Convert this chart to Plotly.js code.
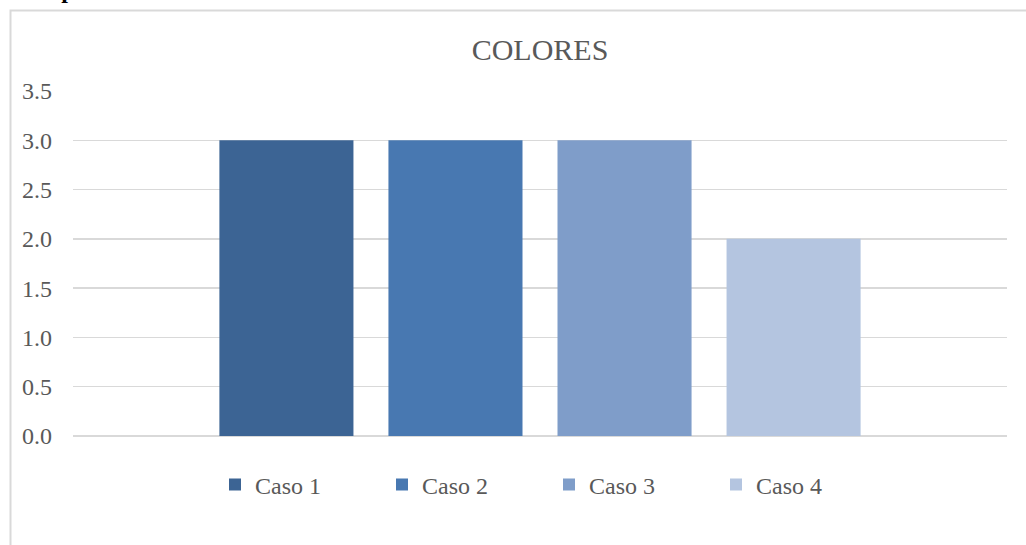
<!DOCTYPE html>
<html>
<head>
<meta charset="utf-8">
<script src="https://cdn.plot.ly/plotly-3.0.1.min.js"></script>
<style>html,body{margin:0;padding:0;background:#fff;}#chart{width:1026px;height:545px;}</style>
</head>
<body>
<div id="chart"></div>
<script>
const categories = ['COLORES'];
const seriesNames = ['Caso 1', 'Caso 2', 'Caso 3', 'Caso 4'];
const seriesValues = [[3], [3], [3], [2]];
const seriesColors = ['#3C6494', '#4878B1', '#7F9DC9', '#B4C5E0'];
const tickValues = [0, 0.5, 1, 1.5, 2, 2.5, 3, 3.5];
const tickLabels = ['0.0', '0.5', '1.0', '1.5', '2.0', '2.5', '3.0', '3.5'];
const chartTitle = 'COLORES';
const captionText = 'Comparación de Colores';

const FONT = 'Liberation Serif, Times New Roman, serif';
const W = 1026, H = 545;
const L = 73, R = 19, T = 91, B = 109;
const PW = W - L - R, PH = H - T - B;
const px = x => (x - L) / PW;
const py = y => (H - B - y) / PH;

const data = seriesNames.map((name, i) => ({
  type: 'bar',
  name: name,
  x: categories,
  y: seriesValues[i],
  marker: {color: seriesColors[i], line: {width: 0}},
  hoverinfo: 'name+y'
}));

const layout = {
  width: W, height: H,
  margin: {l: L, r: R, t: T, b: B, pad: 0},
  paper_bgcolor: '#ffffff',
  plot_bgcolor: '#ffffff',
  barmode: 'group',
  bargap: 0.276,
  bargroupgap: 0.207,
  font: {family: FONT, color: '#595959', size: 24},
  title: {
    text: chartTitle,
    font: {family: FONT, size: 30, color: '#595959'},
    x: 0.5, xanchor: 'center', xref: 'paper',
    y: 1 - 49 / H, yanchor: 'middle', yref: 'container'
  },
  xaxis: {
    showticklabels: false, ticks: '', showgrid: false, zeroline: false,
    showline: false, fixedrange: true
  },
  yaxis: {
    range: [0, 3.5],
    tickvals: tickValues,
    ticktext: tickLabels,
    ticks: '',
    ticklabelstandoff: 20,
    showgrid: true, gridcolor: '#d9d9d9', gridwidth: 1.5,
    zeroline: true, zerolinecolor: '#d9d9d9', zerolinewidth: 1.5,
    showline: false,
    tickfont: {family: FONT, size: 24, color: '#595959'},
    fixedrange: true
  },
  showlegend: true,
  legend: {
    orientation: 'h',
    x: px(215), xanchor: 'left',
    y: py(485), yanchor: 'middle',
    entrywidth: 122, entrywidthmode: 'pixels',
    itemwidth: 30,
    font: {family: FONT, size: 24, color: '#595959'},
    bgcolor: 'rgba(0,0,0,0)', borderwidth: 0,
    traceorder: 'normal'
  },
  shapes: [{
    type: 'rect', xref: 'paper', yref: 'paper',
    x0: px(10.5), x1: px(1040), y0: py(560), y1: py(10.5),
    line: {color: '#d9d9d9', width: 2}, fillcolor: 'rgba(0,0,0,0)', layer: 'below'
  }],
  annotations: [{
    text: '<b>' + captionText + '</b>',
    xref: 'paper', yref: 'paper',
    x: px(268), xanchor: 'right',
    y: py(5), yanchor: 'bottom',
    showarrow: false,
    font: {family: FONT, size: 24, color: '#000000'}
  }]
};

Plotly.newPlot('chart', data, layout, {displayModeBar: false, staticPlot: true});
</script>
</body>
</html>
